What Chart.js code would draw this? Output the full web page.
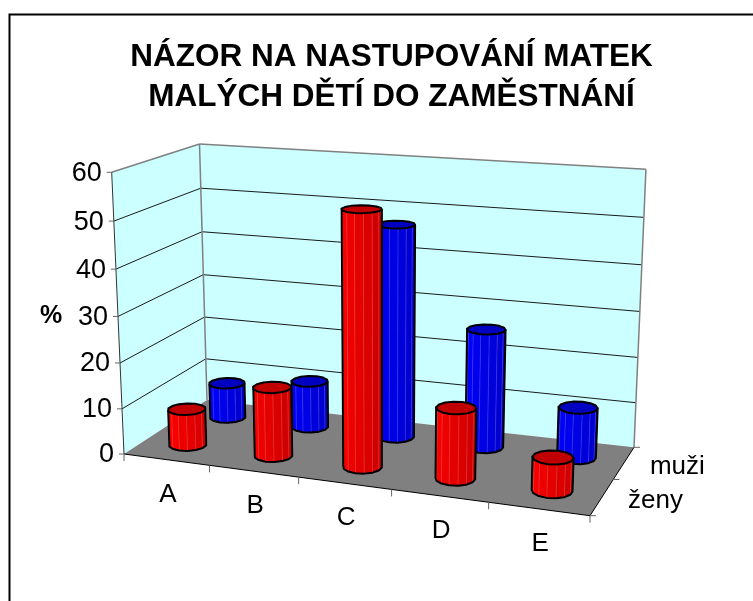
<!DOCTYPE html>
<html>
<head>
<meta charset="utf-8">
<style>html,body{margin:0;padding:0;background:#fff}canvas{display:block}</style>
<script src="https://cdn.jsdelivr.net/npm/chart.js@4"></script>
</head>
<body>
<canvas id="c" width="753" height="601"></canvas>
<script>
const titleLines = ['NÁZOR NA NASTUPOVÁNÍ MATEK', 'MALÝCH DĚTÍ DO ZAMĚSTNÁNÍ'];
const categories = ['A', 'B', 'C', 'D', 'E'];
const seriesNames = ['ženy', 'muži'];
const zeny = [8, 15, 54, 15, 7];
const muzi = [8, 10.5, 47, 26, 11];
const yTicks = [0, 10, 20, 30, 40, 50, 60];
const yTitle = '%';

const FONT = '"Liberation Sans", Arial, sans-serif';
const floor = { fl: [124, 454], fr: [590, 515.7], br: [634, 447.3], bl: [207, 400] };
const vanish = [381, 6336];
const topFL = 172.3;
const U_WARP = 1.0425, V_TAPER = 0.045;

function buildCamera() {
  const [x0, y0] = floor.fl, [x1, y1] = floor.fr, [x2, y2] = floor.br, [x3, y3] = floor.bl;
  const dx1 = x1 - x2, dx2 = x3 - x2, sx = x0 - x1 + x2 - x3;
  const dy1 = y1 - y2, dy2 = y3 - y2, sy = y0 - y1 + y2 - y3;
  const den = dx1 * dy2 - dx2 * dy1;
  const g = (sx * dy2 - dx2 * sy) / den, h = (dx1 * sy - sx * dy1) / den;
  const a = x1 - x0 + g * x1, b = x3 - x0 + h * x3, d = y1 - y0 + g * y1, e = y3 - y0 + h * y3;
  const lam = (topFL - y0) / (vanish[1] - topFL);
  return (u0, w, v0) => {
    const u = u0 * U_WARP / (u0 * U_WARP + 1 - u0);
    const v = v0 * (1 - V_TAPER * u0);
    const W = g * u + h * w + 1 + lam * v;
    return [(a * u + b * w + x0 + lam * vanish[0] * v) / W, (d * u + e * w + y0 + lam * vanish[1] * v) / W];
  };
}
const P = buildCamera();

function poly(ctx, pts) {
  ctx.beginPath();
  pts.forEach((p, i) => i ? ctx.lineTo(p[0], p[1]) : ctx.moveTo(p[0], p[1]));
  ctx.closePath();
}
function seg(ctx, a, b, color, width) {
  ctx.strokeStyle = color; ctx.lineWidth = width;
  ctx.beginPath(); ctx.moveTo(a[0], a[1]); ctx.lineTo(b[0], b[1]); ctx.stroke();
}

const RU = 0.04, RW = 0.1, FACES = 14;

class CylinderController extends Chart.BarController {
  draw() {
    const ctx = this.chart.ctx, meta = this.getMeta();
    const xs = meta.xScale, ys = meta.yScale;
    const nSeries = this.chart.data.datasets.length;
    const w0 = (this.index + 0.5) / nSeries;
    const ds = this.getDataset();
    const base = ds.shade;
    ds.data.forEach((val, i) => {
      const u0 = (xs.getPixelForValue(i) - xs.left) / xs.width;
      const vt = (ys.bottom - ys.getPixelForValue(val)) / ys.height;
      const bot = [], top = [];
      for (let k = 0; k < FACES; k++) {
        const t = (k + 0.5) / FACES * Math.PI * 2;
        const u = u0 + RU * Math.cos(t), w = w0 + RW * Math.sin(t);
        bot.push(P(u, w, 0)); top.push(P(u, w, vt));
      }
      let iL = 0, iR = 0;
      bot.forEach((p, k) => { if (p[0] < bot[iL][0]) iL = k; if (p[0] > bot[iR][0]) iR = k; });
      const arc = [];
      for (let k = iL; ; k = (k + 1) % FACES) { arc.push(k); if (k === iR) break; }
      const colorAt = f => {
        const m = Math.round(255 - 55 * f);
        return base === 'red' ? `rgb(${m},0,0)` : `rgb(0,0,${m})`;
      };
      for (let n = 0; n < arc.length - 1; n++) {
        const k = arc[n], j = arc[n + 1];
        const q = [bot[k], bot[j], top[j], top[k]];
        poly(ctx, q);
        const c = colorAt(n / Math.max(1, arc.length - 2));
        ctx.fillStyle = c; ctx.fill();
        ctx.strokeStyle = c; ctx.lineWidth = 0.5; ctx.stroke();
        if (n > 0) seg(ctx, bot[k], top[k], base === 'red' ? 'rgba(255,130,130,0.3)' : 'rgba(120,120,255,0.35)', 1);
      }
      const outline = arc.map(k => bot[k]).concat([top[iR], top[iL]]);
      poly(ctx, outline);
      ctx.strokeStyle = '#000'; ctx.lineWidth = 2; ctx.lineJoin = 'round'; ctx.stroke();
      poly(ctx, top);
      ctx.fillStyle = base === 'red' ? '#c00000' : '#0000c0'; ctx.fill();
      ctx.stroke();
    });
  }
}
CylinderController.id = 'cylinder';
CylinderController.defaults = Chart.BarController.defaults;
CylinderController.overrides = Chart.BarController.overrides;
Chart.register(CylinderController);

const scene = {
  id: 'scene',
  beforeDatasetsDraw(chart) {
    const ctx = chart.ctx, ys = chart.scales.y;
    const vOf = t => (ys.bottom - ys.getPixelForValue(t)) / ys.height;
    ctx.save();
    ctx.strokeStyle = '#000'; ctx.lineWidth = 2;
    ctx.beginPath(); ctx.moveTo(9.5, 700); ctx.lineTo(9.5, 14.5); ctx.lineTo(800, 14.5); ctx.stroke();

    poly(ctx, [P(0,0,0), P(0,1,0), P(0,1,1), P(0,0,1)]); ctx.fillStyle = '#ccffff'; ctx.fill();
    poly(ctx, [P(0,1,0), P(1,1,0), P(1,1,1), P(0,1,1)]); ctx.fill();
    poly(ctx, [P(0,0,0), P(1,0,0), P(1,1,0), P(0,1,0)]); ctx.fillStyle = '#808080'; ctx.fill();

    yTicks.forEach(t => {
      if (t === 0 || t === 60) return;
      const v = vOf(t);
      seg(ctx, P(0,0,v), P(0,1,v), '#1a1a1a', 1);
      seg(ctx, P(0,1,v), P(1,1,v), '#1a1a1a', 1);
    });
    seg(ctx, P(0,0,1), P(0,1,1), '#808080', 1.5);
    seg(ctx, P(0,1,1), P(1,1,1), '#808080', 1.5);
    seg(ctx, P(0,1,0), P(0,1,1), '#808080', 1.5);
    seg(ctx, P(1,1,0), P(1,1,1), '#808080', 1.5);
    seg(ctx, P(0,0,0), P(0,0,1), '#333', 1);
    seg(ctx, P(0,0,0), P(1,0,0), '#000', 1);
    seg(ctx, P(1,0,0), P(1,1,0), '#000', 1);

    ctx.fillStyle = '#000';
    ctx.font = '27px ' + FONT;
    ctx.textAlign = 'right'; ctx.textBaseline = 'middle';
    yTicks.forEach(t => {
      const p = P(0, 0, vOf(t));
      seg(ctx, [p[0] - 5, p[1]], p, '#666', 1);
      ctx.fillText(String(t), p[0] - 10, p[1] + 1);
    });
    ctx.font = '26px ' + FONT;
    ctx.textAlign = 'center';
    categories.forEach((c, i) => {
      const p = P((i + 0.5) / categories.length, 0, 0);
      ctx.fillText(c, p[0] + 1.5, p[1] + 35);
    });
    for (let i = 0; i <= categories.length; i++) {
      const p = P(i / categories.length, 0, 0);
      seg(ctx, p, [p[0], p[1] + 7], '#666', 1);
    }
    ctx.textAlign = 'left';
    seriesNames.forEach((s, i) => {
      const p = P(1, (i + 0.5) / seriesNames.length, 0);
      ctx.fillText(s, p[0] + 26, p[1] + 4);
    });
    for (let i = 0; i <= seriesNames.length; i++) {
      const p = P(1, i / seriesNames.length, 0);
      seg(ctx, p, [p[0] + 6, p[1]], '#666', 1);
    }
    ctx.font = 'bold 25px ' + FONT;
    ctx.textAlign = 'center';
    ctx.fillText(yTitle, 51, 316);
    ctx.restore();
  }
};

new Chart(document.getElementById('c'), {
  type: 'cylinder',
  data: {
    labels: categories,
    datasets: [
      { label: seriesNames[0], data: zeny, shade: 'red', backgroundColor: '#ff0000' },
      { label: seriesNames[1], data: muzi, shade: 'blue', backgroundColor: '#0000ff' }
    ]
  },
  options: {
    responsive: false,
    animation: false,
    layout: { padding: { left: 30 } },
    scales: {
      x: { type: 'category', display: false, offset: true },
      y: { type: 'linear', display: false, min: 0, max: 60 }
    },
    plugins: {
      legend: { display: false },
      tooltip: { enabled: false },
      title: {
        display: true,
        text: titleLines,
        color: '#000',
        font: { family: FONT, size: 31.5, weight: 'bold', lineHeight: 1.27 },
        padding: { top: 37, bottom: 10 }
      }
    }
  },
  plugins: [scene]
});
</script>
</body>
</html>
